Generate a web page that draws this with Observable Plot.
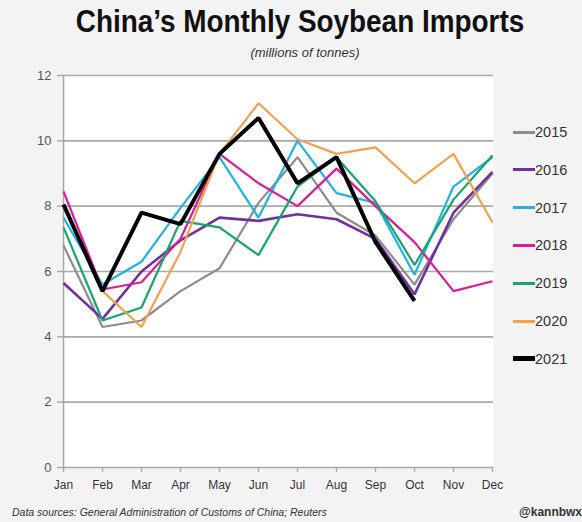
<!DOCTYPE html>
<html>
<head>
<meta charset="utf-8">
<script src="https://cdn.jsdelivr.net/npm/d3@7"></script>
<script src="https://cdn.jsdelivr.net/npm/@observablehq/plot@0.6"></script>
<style>
  html, body { margin: 0; padding: 0; background: #f3f3f3; }
  #wrap { position: relative; width: 582px; height: 522px; background: #f3f3f3; overflow: hidden; font-family: "Liberation Sans", Arial, sans-serif; }
  #chart { position: absolute; left: 0; top: 0; }
  .title { position: absolute; left: 0; width: 600px; top: 4px; text-align: center; font-family: "Liberation Sans", Arial, sans-serif; font-weight: bold; font-size: 31px; color: #111; white-space: nowrap; transform: scaleX(0.9); transform-origin: 300px 0; }
  .subtitle { position: absolute; left: 0; width: 610px; top: 45px; text-align: center; font-style: italic; font-size: 13px; color: #333; }
  .caption { position: absolute; left: 12px; top: 506px; font-style: italic; font-size: 10.5px; color: #333; white-space: nowrap; }
  .handle { position: absolute; left: 519px; top: 505px; font-weight: bold; font-size: 12px; color: #333; white-space: nowrap; }
  .legend { position: absolute; left: 513px; top: 122px; }
  .item { position: absolute; left: 0; height: 20px; display: flex; align-items: center; font-size: 14.5px; color: #333; white-space: nowrap; }
  .sw { display: inline-block; width: 22px; margin-right: 0px; }
</style>
</head>
<body>
<div id="wrap">
  <div id="chart"></div>
  <div class="title">China’s Monthly Soybean Imports</div>
  <div class="subtitle">(millions of tonnes)</div>
  <div class="legend" id="legend"></div>
  <div class="caption">Data sources: General Administration of Customs of China; Reuters</div>
  <div class="handle">@kannbwx</div>
</div>
<script>
const months = ["Jan","Feb","Mar","Apr","May","Jun","Jul","Aug","Sep","Oct","Nov","Dec"];
const years = ["2015","2016","2017","2018","2019","2020","2021"];
const colors = ["#8c8c8c","#7030a0","#1fb3e8","#e0199a","#17a56e","#f5a04f","#000000"];
const widths = [2.2, 2.6, 2.2, 2.2, 2.2, 2.2, 4];
const yTicks = [0, 2, 4, 6, 8, 10, 12];

const v2015 = [6.8, 4.3, 4.5, 5.4, 6.1, 8.1, 9.5, 7.8, 7.1, 5.6, 7.6, 9.0];
const v2016 = [5.65, 4.55, 6.0, 6.95, 7.65, 7.55, 7.75, 7.6, 7.0, 5.3, 7.8, 9.05];
const v2017 = [7.65, 5.6, 6.3, 7.95, 9.5, 7.65, 10.0, 8.4, 8.1, 5.9, 8.6, 9.5];
const v2018 = [8.45, 5.45, 5.67, 7.0, 9.6, 8.7, 8.0, 9.15, 8.0, 6.9, 5.4, 5.7];
const v2019 = [7.35, 4.5, 4.9, 7.55, 7.35, 6.5, 8.6, 9.5, 8.15, 6.2, 8.2, 9.55];
const v2020 = [8.0, 5.4, 4.3, 6.6, 9.6, 11.15, 10.05, 9.6, 9.8, 8.7, 9.6, 7.5];
const v2021 = [8.05, 5.4, 7.8, 7.45, 9.6, 10.7, 8.7, 9.5, 6.9, 5.1];

const series = [v2015, v2016, v2017, v2018, v2019, v2020, v2021];
const rows = [];
series.forEach((vals, i) => vals.forEach((v, j) => rows.push({year: years[i], month: months[j], value: v})));

const lineMarks = years.map((yr, i) => Plot.line(rows.filter(d => d.year === yr), {
  x: "month", y: "value", stroke: colors[i], strokeWidth: widths[i], strokeLinejoin: "miter", strokeLinecap: "butt"
}));

const chart = Plot.plot({
  width: 582,
  height: 522,
  marginLeft: 62,
  marginRight: 89,
  marginTop: 75,
  marginBottom: 55,
  style: { background: "transparent", fontFamily: "Liberation Sans, Arial, sans-serif", fontSize: "13px", color: "#555" },
  x: { type: "point", domain: months, padding: 0 },
  y: { domain: [0, 12] },
  marks: [
    Plot.frame({ fill: "white", stroke: null }),
    Plot.gridY(yTicks.filter(t => t > 0), { stroke: "#a9a9a9", strokeOpacity: 1, strokeWidth: 1.6 }),
    Plot.ruleX([months[0]], { stroke: "#a9a9a9", strokeWidth: 1.6 }),
    Plot.ruleY([0], { stroke: "#a9a9a9", strokeWidth: 1.6 }),
    Plot.axisY(yTicks, { tickSize: 5, tickPadding: 6, stroke: "#a9a9a9", strokeWidth: 1.4, fill: "#555", fontSize: 13, label: null }),
    Plot.axisX(months, { tickSize: 5, tickPadding: 8, stroke: "#a9a9a9", strokeWidth: 1.4, fill: "#333", fontSize: 12, label: null }),
    ...lineMarks
  ]
});
document.getElementById("chart").appendChild(chart);

const leg = document.getElementById("legend");
years.forEach((yr, i) => {
  const it = document.createElement("div");
  it.className = "item";
  it.style.top = (i * 37.8) + "px";
  const sw = document.createElement("span");
  sw.className = "sw";
  sw.style.height = (i === 6 ? 5 : 3) + "px";
  sw.style.background = colors[i];
  it.appendChild(sw);
  it.appendChild(document.createTextNode(yr));
  leg.appendChild(it);
});
</script>
</body>
</html>
